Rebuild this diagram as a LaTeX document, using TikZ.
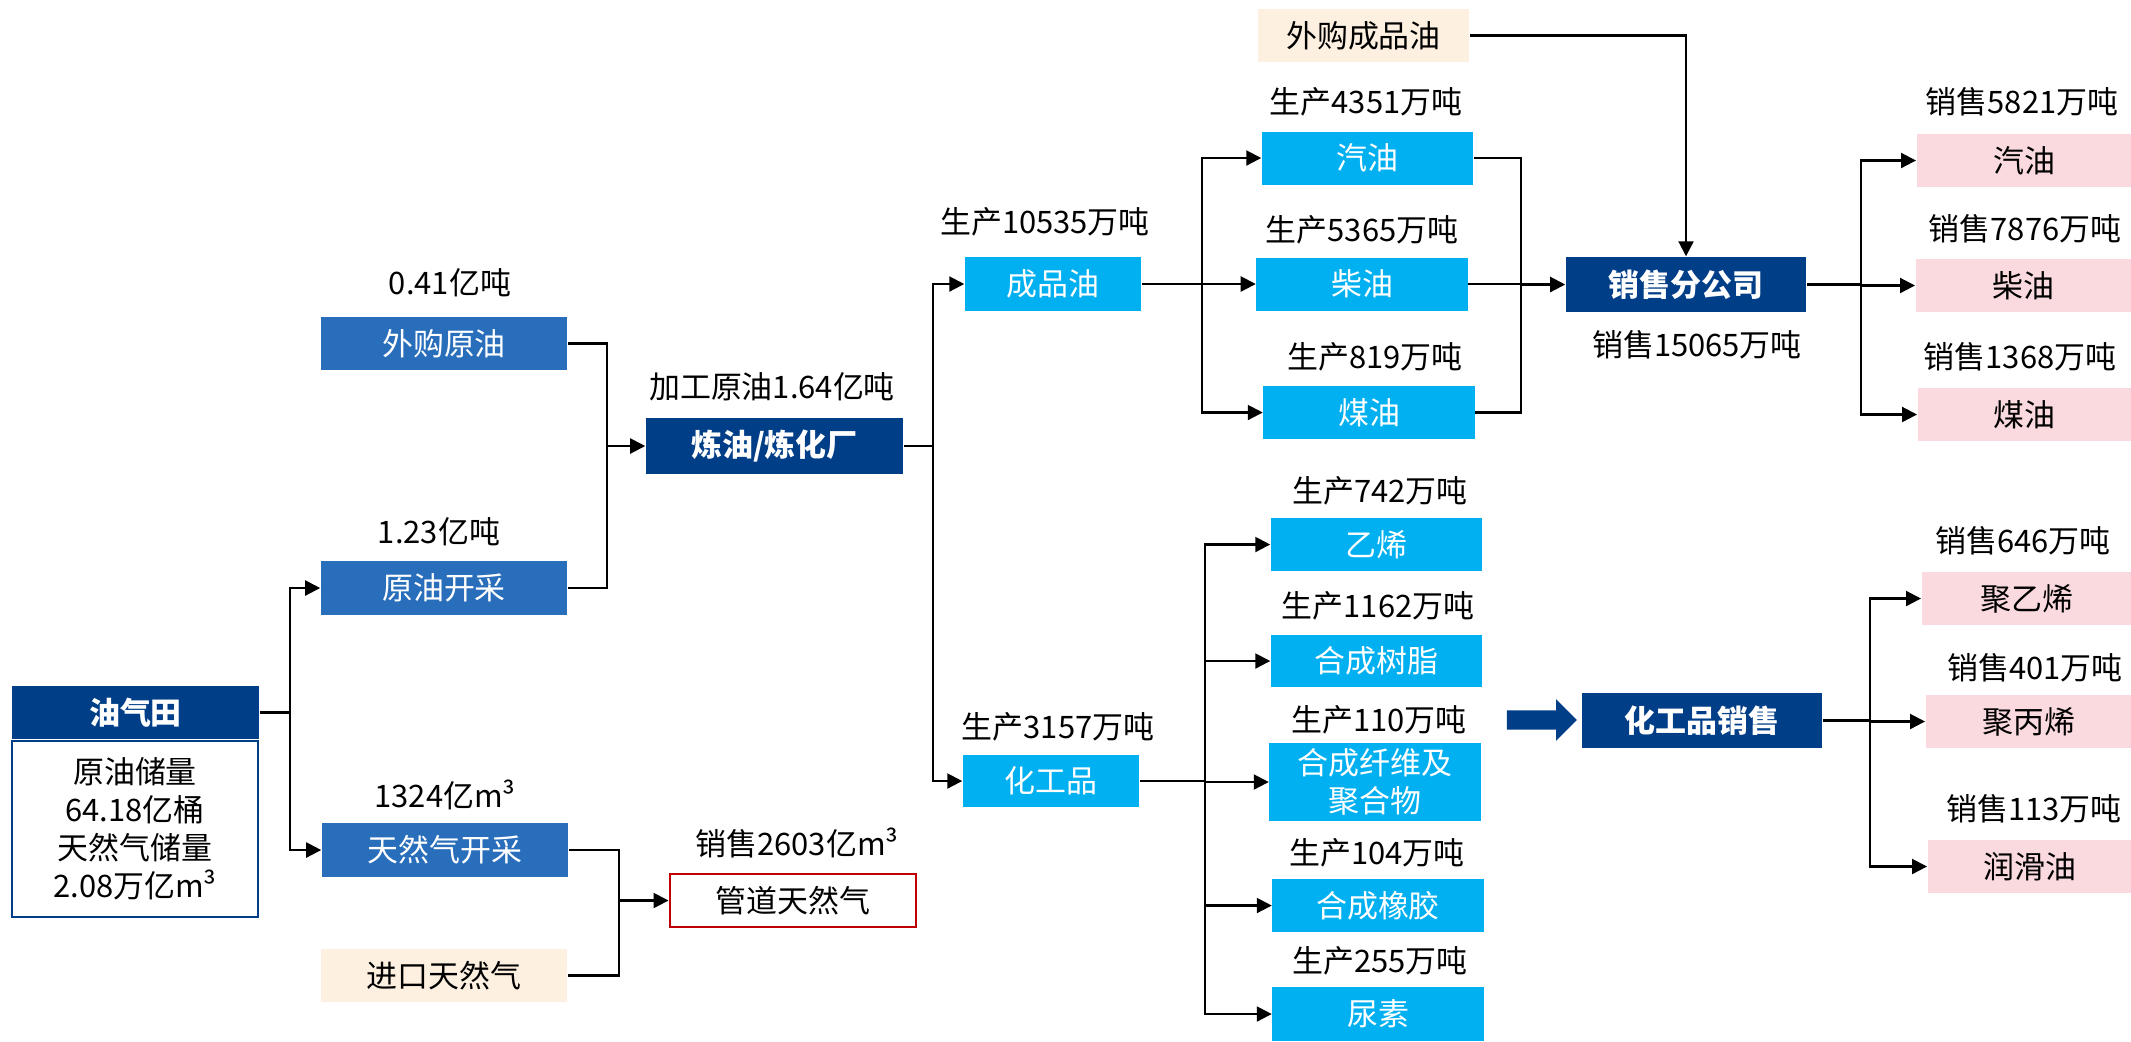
\documentclass[tikz,border=0pt]{standalone}
\usepackage{fontspec}
\setmainfont{Noto Sans CJK SC}
\usetikzlibrary{arrows.meta,positioning,shapes.arrows,calc}

\definecolor{darkblue}{RGB}{0,62,135}
\definecolor{midblue}{RGB}{41,110,187}
\definecolor{skyblue}{RGB}{0,176,240}
\definecolor{beige}{RGB}{253,240,224}
\definecolor{pinkfill}{RGB}{250,218,222}
\definecolor{redline}{RGB}{192,0,0}

\begin{document}
\begin{tikzpicture}[x=0.01cm, y=-0.01cm, >={Triangle[length=0.15cm, width=0.15cm]},
    every node/.style={font=\fontsize{8.8}{10.8}\selectfont},
    box/.style={minimum height=0.53cm, inner sep=0pt, align=center},
    darkbox/.style={box, fill=darkblue, text=white, font=\fontsize{8.8}{10.8}\selectfont\bfseries},
    midbox/.style={box, fill=midblue, text=white},
    skybox/.style={box, fill=skyblue, text=white},
    beigebox/.style={box, fill=beige},
    pinkbox/.style={box, fill=pinkfill},
    link/.style={line width=0.6pt}]

% Page size
\useasboundingbox (0,0) rectangle (2131,1041);

% Define junction columns
\def\colfield{290}
\def\colcrude{607}
\def\colgas{619}
\def\colref{933}
\def\coloil{1202}
\def\colchem{1205}
\def\colsale{1521}
\def\colout{1861}
\def\colchemout{1870}

% Oil and gas field
\node[darkbox, minimum width=2.47cm] (field) at (135.5,712.5) {油气田};
\node[box, draw=darkblue, line width=0.7pt, fill=white, minimum width=2.46cm, minimum height=1.76cm] (reserve) at (135,829) {原油储量\\64.18亿桶\\天然气储量\\2.08万亿m³};

% Crude oil and gas sources
\node[midbox, minimum width=2.46cm] (buycrude) at (444,343.5) {外购原油};
\node[midbox, minimum width=2.46cm, minimum height=0.54cm] (mining) at (444,588) {原油开采};
\node[midbox, minimum width=2.46cm, minimum height=0.54cm] (gasmining) at (445,850) {天然气开采};
\node[beigebox, minimum width=2.46cm] (gasimport) at (444,975.5) {进口天然气};
\node[box, draw=redline, line width=0.8pt, minimum width=2.46cm] (pipegas) at (793,900.5) {管道天然气};

\node (buycrude-lb) at (450,283) {0.41亿吨};
\node (mining-lb) at (439,532) {1.23亿吨};
\node (gasmining-lb) at (445,795) {1324亿m³};
\node (pipegas-lb) at (797,843) {销售2603亿m³};

% Refinery and its two outputs
\node[darkbox, minimum width=2.57cm, minimum height=0.56cm] (refinery) at (774.5,446) {炼油/炼化厂};
\node (refinery-lb) at (772,387) {加工原油1.64亿吨};

\node[skybox, minimum width=1.76cm, minimum height=0.54cm] (oilprod) at (1053,284) {成品油};
\node (oilprod-lb) at (1045,222) {生产10535万吨};
\node[skybox, minimum width=1.76cm, minimum height=0.52cm] (chemprod) at (1051,781) {化工品};
\node (chemprod-lb) at (1058,727) {生产3157万吨};

% Refined oil products
\foreach \nm/\txt/\xc/\yc/\lbx/\lby/\num in {gasoline/汽油/1367.5/158/1366/102/4351, diesel/柴油/1362/284/1362/230/5365, kerosene/煤油/1369/412.5/1375/357/819} {
    \node[skybox, minimum width=2.11cm] (\nm) at (\xc,\yc) {\txt};
    \node (\nm-lb) at (\lbx,\lby) {生产\num 万吨};
}
\node[beigebox, minimum width=2.11cm] (buyoil) at (1363.5,35.5) {外购成品油};

% Chemical products
\foreach \nm/\txt/\xc/\yc/\lbx/\lby/\num/\boxh in {ethylene/乙烯/1376.5/544.5/1380/491/742/0.53, resin/合成树脂/1376.5/661/1378/606/1162/0.52, fiber/合成纤维及\\聚合物/1375/782/1379/720/110/0.78, rubber/合成橡胶/1378/905.5/1377/853/104/0.53, urea/尿素/1378/1014/1380/961/255/0.54} {
    \node[skybox, minimum width=2.11cm, minimum height=\boxh cm] (\nm) at (\xc,\yc) {\txt};
    \node (\nm-lb) at (\lbx,\lby) {生产\num 万吨};
}

% Sales companies
\node[darkbox, minimum width=2.40cm, minimum height=0.55cm] (salesco) at (1686,284.5) {销售分公司};
\node (salesco-lb) at (1697,345) {销售15065万吨};
\node[darkbox, minimum width=2.40cm, minimum height=0.55cm] (chemsales) at (1702,720.5) {化工品销售};
\node[single arrow, fill=darkblue, inner sep=0pt, text height=0.18cm, text depth=0pt, text width=0pt, minimum height=0.70cm, single arrow head extend=0.11cm] (bigarrow) at (1537,720) {};

% Sold products (boxes run to the right edge)
\foreach \nm/\txt/\xl/\yc/\lbx/\lby/\num in {pgasoline/汽油/1916/160.5/2022/102/5821, pdiesel/柴油/1915/285.5/2025/229/7876, pkerosene/煤油/1917/414.5/2020/357/1368, pe/聚乙烯/1921/598.5/2023/541/646, pp/聚丙烯/1925/721.5/2035/668/401, lube/润滑油/1927/866.5/2034/809/113} {
    \pgfmathsetmacro\pinkw{(2131-\xl)/100}
    \node[pinkbox, anchor=west, minimum width=\pinkw cm] (\nm) at (\xl,\yc) {\txt};
    \node (\nm-lb) at (\lbx,\lby) {销售\num 万吨};
}

% Field to extraction
\coordinate (jfield) at (\colfield,712.5);
\draw[link] (field.east) -- (jfield);
\draw[link,->] (jfield) |- (mining.west);
\draw[link,->] (jfield) |- (gasmining.west);

% Crude to refinery
\coordinate (jcrude) at (\colcrude,446);
\draw[link] (buycrude.east) -| (jcrude);
\draw[link] (mining.east) -| (jcrude);
\draw[link,->] (jcrude) -- (refinery.west);

% Gas to pipeline
\coordinate (jgas) at (\colgas,900.5);
\draw[link] (gasmining.east) -| (jgas);
\draw[link] (gasimport.east) -| (jgas);
\draw[link,->] (jgas) -- (pipegas.west);

% Refinery outputs
\coordinate (jref) at (\colref,446);
\draw[link] (refinery.east) -- (jref);
\draw[link,->] (jref) |- (oilprod.west);
\draw[link,->] (jref) |- (chemprod.west);

% Refined oil split
\coordinate (joil) at (\coloil,284);
\draw[link] (oilprod.east) -- (joil);
\foreach \nm in {gasoline,diesel,kerosene}
    \draw[link,->] (joil) |- (\nm.west);

% Into sales company
\coordinate (jsale) at (\colsale,284.5);
\foreach \nm in {gasoline,diesel,kerosene}
    \draw[link] (\nm.east) -| (jsale);
\draw[link,->] (jsale) -- (salesco.west);
\draw[link,->] (buyoil.east) -| (salesco.north);

\coordinate (jout) at (\colout,284.5);
\draw[link] (salesco.east) -- (jout);
\foreach \nm in {pgasoline,pdiesel,pkerosene}
    \draw[link,->] (jout) |- (\nm.west);

% Chemical split
\coordinate (jchem) at (\colchem,781);
\draw[link] (chemprod.east) -- (jchem);
\foreach \nm in {ethylene,resin,fiber,rubber,urea}
    \draw[link,->] (jchem) |- (\nm.west);

\coordinate (jchemout) at (\colchemout,720.5);
\draw[link] (chemsales.east) -- (jchemout);
\foreach \nm in {pe,pp,lube}
    \draw[link,->] (jchemout) |- (\nm.west);

\end{tikzpicture}
\end{document}
